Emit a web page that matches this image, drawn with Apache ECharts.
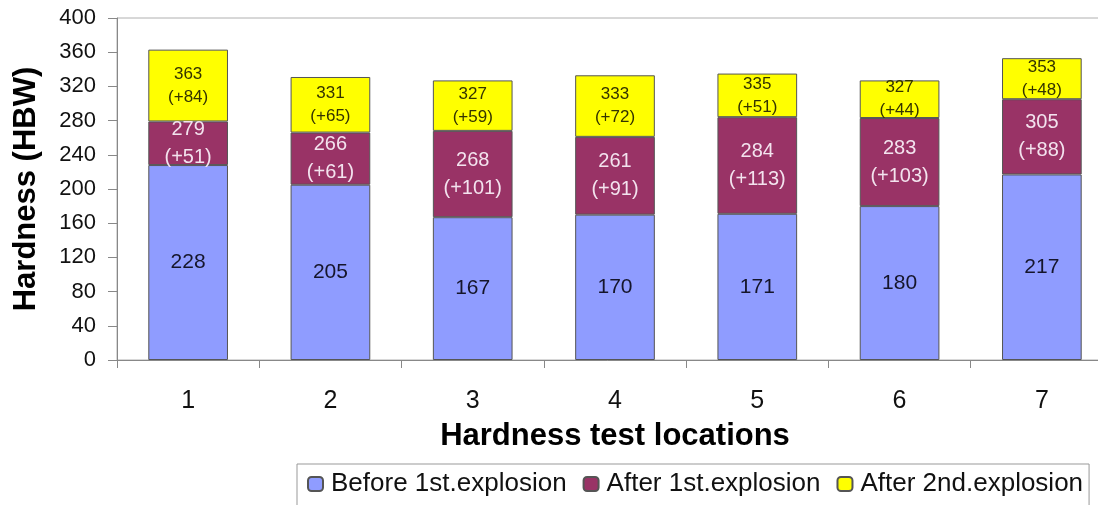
<!DOCTYPE html>
<html>
<head>
<meta charset="utf-8">
<script src="https://cdn.jsdelivr.net/npm/echarts@6/dist/echarts.min.js"></script>
<style>
  html, body { margin: 0; padding: 0; background: #fff; }
  #chart { width: 1098px; height: 505px; }
</style>
</head>
<body>
<div id="chart"></div>
<script>
// Hardness test locations
const locations = ['1', '2', '3', '4', '5', '6', '7'];
// Hardness before the first explosion (HBW)
const beforeFirst = [228, 205, 167, 170, 171, 180, 217];
// Increase after the first explosion
const gainFirst = [51, 61, 101, 91, 113, 103, 88];
// Increase after the second explosion
const gainSecond = [84, 65, 59, 72, 51, 44, 48];
const yTicks = [0, 40, 80, 120, 160, 200, 240, 280, 320, 360, 400];

const FONT = '"Liberation Sans", Arial, sans-serif';
const afterFirst = beforeFirst.map((v, i) => v + gainFirst[i]);
const afterSecond = afterFirst.map((v, i) => v + gainSecond[i]);

const chart = echarts.init(document.getElementById('chart'), null, { renderer: 'canvas' });

const barBorder = { borderColor: '#555', borderWidth: 1 };

chart.setOption({
  animation: false,
  textStyle: { fontFamily: FONT },
  grid: {
    left: 117, top: 18, width: 996, height: 342,
    outerBoundsMode: 'none',
    containLabel: false,
    show: true, borderColor: '#b0b0b0', borderWidth: 1, backgroundColor: '#fff'
  },
  legend: {
    left: 297, top: 464,
    padding: [7, 6, 12, 10],
    itemGap: 16,
    itemWidth: 15, itemHeight: 14,
    borderColor: '#999', borderWidth: 1,
    textStyle: { fontSize: 26, color: '#111', fontFamily: FONT, padding: [0, 0, 0, 3] },
    data: ['Before 1st.explosion', 'After 1st.explosion', 'After 2nd.explosion']
  },
  xAxis: {
    type: 'category',
    data: locations,
    name: 'Hardness test locations',
    nameLocation: 'middle',
    nameGap: 61,
    nameTextStyle: { fontSize: 31, fontWeight: 'bold', color: '#000', fontFamily: FONT },
    axisLine: { lineStyle: { color: '#888' } },
    axisTick: { show: true, length: 8, lineStyle: { color: '#888' } },
    axisLabel: { fontSize: 25, color: '#111', margin: 29, fontFamily: FONT }
  },
  yAxis: {
    type: 'value',
    min: yTicks[0], max: yTicks[yTicks.length - 1], interval: yTicks[1] - yTicks[0],
    name: 'Hardness (HBW)',
    nameLocation: 'middle',
    nameRotate: 90,
    nameGap: 75,
    nameTextStyle: { fontSize: 31, fontWeight: 'bold', color: '#000', fontFamily: FONT },
    axisLine: { show: true, lineStyle: { color: '#888' } },
    axisTick: { show: true, length: 9, lineStyle: { color: '#888' } },
    splitLine: { show: false },
    axisLabel: { fontSize: 22, color: '#111', margin: 21, fontFamily: FONT }
  },
  series: [
    {
      name: 'Before 1st.explosion',
      type: 'bar', stack: 'h',
      barCategoryGap: '44%',
      data: beforeFirst,
      itemStyle: Object.assign({ color: '#8f9cff' }, barBorder),
      label: {
        show: true, position: 'inside',
        fontSize: 21, color: '#15152a', fontFamily: FONT,
        formatter: p => String(beforeFirst[p.dataIndex])
      }
    },
    {
      name: 'After 1st.explosion',
      type: 'bar', stack: 'h',
      data: gainFirst,
      itemStyle: Object.assign({ color: '#993366' }, barBorder),
      label: {
        show: true, position: 'inside',
        fontSize: 20, lineHeight: 28, color: '#f3e3ee', fontFamily: FONT,
        formatter: p => afterFirst[p.dataIndex] + '\n(+' + gainFirst[p.dataIndex] + ')'
      }
    },
    {
      name: 'After 2nd.explosion',
      type: 'bar', stack: 'h',
      data: gainSecond,
      itemStyle: Object.assign({ color: '#ffff00' }, barBorder),
      label: {
        show: true, position: 'inside',
        fontSize: 17, lineHeight: 23, color: '#333300', fontFamily: FONT,
        formatter: p => afterSecond[p.dataIndex] + '\n(+' + gainSecond[p.dataIndex] + ')'
      }
    }
  ]
});
</script>
</body>
</html>
